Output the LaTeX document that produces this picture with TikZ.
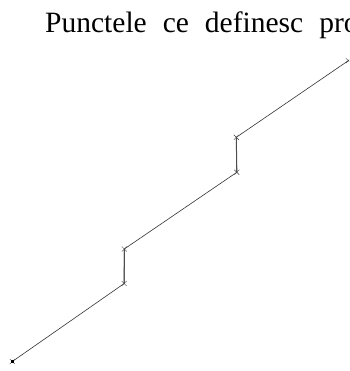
\documentclass[tikz,border=0pt]{standalone}
\usepackage{fontspec}
\setmainfont{Liberation Serif}
\begin{document}
\begin{tikzpicture}[x=1pt,y=-1pt,
  seg/.style={draw=black!80,line width=0.6pt},
  xmark/.style={draw=black!75,line width=0.4pt}]
\useasboundingbox (0,0) rectangle (349,371);
\clip (0,0) rectangle (349,371);
\node[anchor=base west,inner sep=0pt,font=\fontsize{29.5}{34}\selectfont] (title) at (45,33)
  {\spaceskip=16pt Punctele ce definesc pro};
\coordinate (p0) at (12.3,361.5);
\coordinate (p1) at (124.2,283.5);
\coordinate (p2) at (124.3,249);
\coordinate (p3) at (236.8,172.3);
\coordinate (p4) at (236.3,137.3);
\coordinate (p5) at (348.3,60.7);
\draw[seg] (p0) -- (p1) -- (p2) -- (p3) -- (p4) -- (p5);
\draw[line width=1pt,black!70] (p1) -- (p2) (p3) -- (p4);
\foreach \p in {p0,p1,p2,p3,p4,p5}
  \draw[xmark] ([shift={(-2.5,-2.5)}]\p) -- ([shift={(2.5,2.5)}]\p)
               ([shift={(-2.5,2.5)}]\p) -- ([shift={(2.5,-2.5)}]\p);
\fill[black] ([shift={(-1.3,-1.3)}]p0) rectangle ([shift={(1.3,1.3)}]p0);
\end{tikzpicture}
\end{document}
